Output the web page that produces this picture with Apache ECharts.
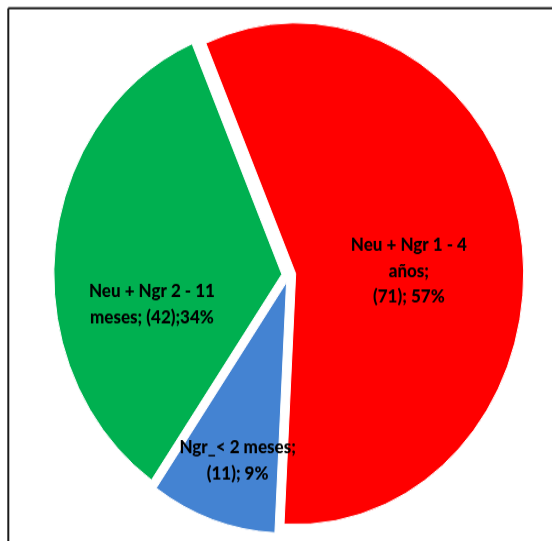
<!DOCTYPE html>
<html>
<head>
<meta charset="utf-8">
<script src="https://cdn.jsdelivr.net/npm/echarts@6/dist/echarts.min.js"></script>
<style>
  html, body { margin: 0; padding: 0; background: #fff; width: 552px; height: 541px; }
  #wrap { position: relative; width: 552px; height: 541px; overflow: hidden; }
  /* the pie is drawn slightly taller than wide */
  #chart { position: absolute; left: 0; top: 0; width: 552px; height: 492px; transform: scaleY(1.1); transform-origin: 0 0; }
</style>
</head>
<body>
<div id="wrap"><div id="chart"></div></div>
<script>
// Age groups and patient counts
const categories = ['Neu + Ngr 1 - 4\naños', 'Ngr_< 2 meses', 'Neu + Ngr 2 - 11\nmeses'];
const counts = [71, 11, 42];
const sliceColors = ['#FF0000', '#4483D2', '#00B050'];
// text between the name and the count, and between the count and the percentage
const nameBreaks = ['\n', '\n', ' '];
const pctGaps = [' ', ' ', ''];
// label nudges from the default inside position
const labelShift = [[-2, 18], [-11, 51], [-13.5, 39]];

const chart = echarts.init(document.getElementById('chart'), null, { renderer: 'canvas' });

chart.setOption({
  backgroundColor: '#fff',
  animation: false,
  graphic: [
    { type: 'line', shape: { x1: 8.3, y1: 7.5, x2: 600, y2: 7.5 }, style: { stroke: '#1a1a1a', lineWidth: 1.8 } },
    { type: 'line', shape: { x1: 8.3, y1: 7.5, x2: 8.3, y2: 600 }, style: { stroke: '#1a1a1a', lineWidth: 2 } }
  ],
  series: [{
    type: 'pie',
    center: [288.8, 250],
    radius: [0, 228],
    startAngle: 113.2,
    clockwise: true,
    selectedMode: 'multiple',
    selectedOffset: 7,
    itemStyle: { borderColor: '#fff', borderWidth: 1 },
    emphasis: { disabled: true },
    label: {
      show: true,
      position: 'inside',
      color: '#000',
      fontFamily: 'Lato',
      fontWeight: 900,
      fontSize: 17,
      lineHeight: 23.4,
      align: 'center',
      formatter: function (p) {
        const i = p.dataIndex;
        return p.name + ';' + nameBreaks[i] + '(' + p.value + ');' + pctGaps[i] + Math.round(p.percent) + '%';
      }
    },
    labelLine: { show: false },
    labelLayout: function (p) {
      const s = labelShift[p.dataIndex];
      return { dx: s[0], dy: s[1] };
    },
    data: categories.map(function (name, i) {
      return {
        name: name,
        value: counts[i],
        selected: true,
        itemStyle: { color: sliceColors[i] },
        select: { itemStyle: { color: sliceColors[i], borderColor: '#fff', borderWidth: 1 } }
      };
    })
  }]
});
</script>
</body>
</html>
